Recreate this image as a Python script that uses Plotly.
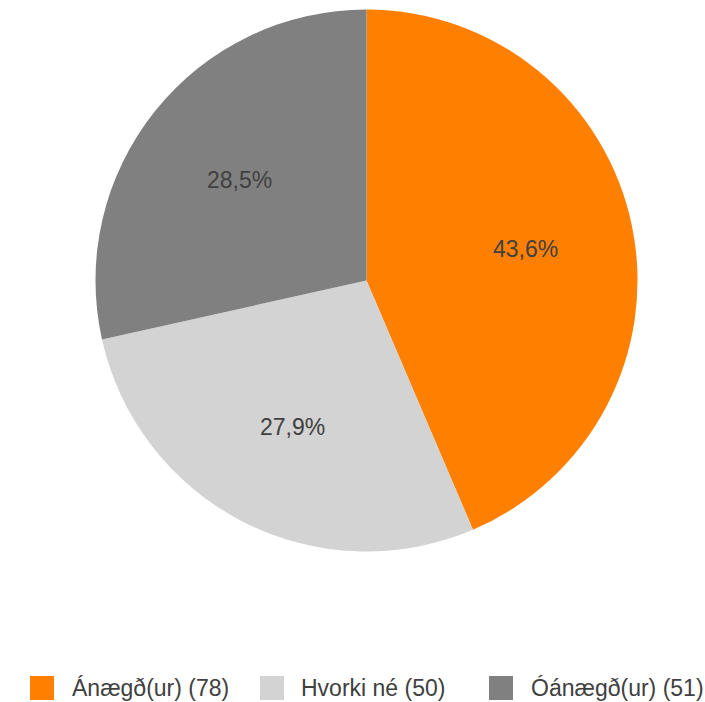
import math
import plotly.graph_objects as go

labels = ["Ánægð(ur)", "Hvorki né", "Óánægð(ur)"]
counts = [78, 50, 51]
colors = ["#FF8000", "#D3D3D3", "#808080"]

W, H = 705, 702
FONT = "Liberation Sans, Arial, sans-serif"
TXT = "#404040"

# pie geometry (pixels)
CX, CY, R = 366.5, 280.5, 271.0

fig = go.Figure()
fig.add_trace(go.Pie(
    labels=labels,
    values=counts,
    sort=False,
    direction="clockwise",
    rotation=0,
    marker=dict(colors=colors, line=dict(width=0)),
    textinfo="none",
    hoverinfo="label+value+percent",
    showlegend=False,
    domain=dict(x=[(CX - R) / W, (CX + R) / W], y=[(H - (CY + R)) / H, (H - (CY - R)) / H]),
))

annotations = []
shapes = []

# slice percentage labels placed along each slice's mid-angle
total = sum(counts)
cum = 0
for c in counts:
    frac = c / total
    mid = (cum + frac / 2) * 2 * math.pi
    cum += frac
    px = CX + 0.6 * R * math.sin(mid)
    py = CY - 0.6 * R * math.cos(mid) + 1.5
    pct = f"{frac * 100:.1f}".replace(".", ",") + "%"
    annotations.append(dict(xref="paper", yref="paper", x=px / W, y=(H - py) / H,
                            xanchor="center", yanchor="middle", text=pct,
                            showarrow=False,
                            font=dict(family=FONT, size=23, color=TXT)))

# custom legend (large squares like the reference)
sq_x = [30, 260, 489]
txt_x = [70, 299, 529]
yc = 688
sq = 24
for i, (lab, c, col) in enumerate(zip(labels, counts, colors)):
    shapes.append(dict(type="rect", xref="paper", yref="paper",
                       x0=sq_x[i] / W, x1=(sq_x[i] + sq) / W,
                       y0=(H - (yc + sq / 2)) / H, y1=(H - (yc - sq / 2)) / H,
                       fillcolor=col, line=dict(width=0)))
    annotations.append(dict(xref="paper", yref="paper",
                            x=txt_x[i] / W, y=(H - yc) / H,
                            xanchor="left", yanchor="middle",
                            text=f"{lab} ({c})", showarrow=False,
                            font=dict(family=FONT, size=23, color=TXT)))

fig.update_layout(
    width=W, height=H,
    margin=dict(l=0, r=0, t=0, b=0),
    paper_bgcolor="white",
    plot_bgcolor="white",
    separators=", ",
    shapes=shapes,
    annotations=annotations,
    font=dict(family=FONT),
)

fig.write_html("out.html",
               config={"displayModeBar": False},
               post_script="document.body.style.margin='0';document.body.style.overflow='hidden';")
